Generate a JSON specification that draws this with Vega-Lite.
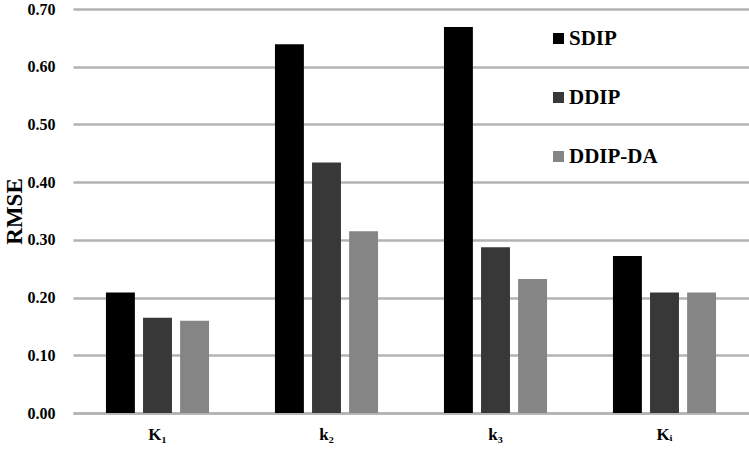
{
  "$schema": "https://vega.github.io/schema/vega-lite/v6.json",
  "width": 676,
  "height": 404,
  "autosize": {"type": "none"},
  "padding": {"left": 73, "top": 9, "right": 0, "bottom": 36},
  "background": "white",
  "data": {
    "values": [
      {"cat": "K₁", "series": "SDIP", "rmse": 0.209},
      {"cat": "K₁", "series": "DDIP", "rmse": 0.165},
      {"cat": "K₁", "series": "DDIP-DA", "rmse": 0.160},
      {"cat": "k₂", "series": "SDIP", "rmse": 0.639},
      {"cat": "k₂", "series": "DDIP", "rmse": 0.434},
      {"cat": "k₂", "series": "DDIP-DA", "rmse": 0.315},
      {"cat": "k₃", "series": "SDIP", "rmse": 0.669},
      {"cat": "k₃", "series": "DDIP", "rmse": 0.287},
      {"cat": "k₃", "series": "DDIP-DA", "rmse": 0.232},
      {"cat": "Kᵢ", "series": "SDIP", "rmse": 0.272},
      {"cat": "Kᵢ", "series": "DDIP", "rmse": 0.209},
      {"cat": "Kᵢ", "series": "DDIP-DA", "rmse": 0.209}
    ]
  },
  "config": {
    "view": {"stroke": null},
    "font": "Liberation Serif"
  },
  "mark": {"type": "bar"},
  "encoding": {
    "x": {
      "field": "cat",
      "type": "nominal",
      "sort": ["K₁", "k₂", "k₃", "Kᵢ"],
      "scale": {"paddingInner": 0.39, "paddingOuter": 0.195},
      "axis": {
        "title": null,
        "labelAngle": 0,
        "labelFont": "Liberation Serif",
        "labelFontWeight": "bold",
        "labelFontSize": 17,
        "labelColor": "black",
        "labelPadding": 13,
        "ticks": false,
        "domain": true,
        "domainColor": "#b3b3b3",
        "domainWidth": 2.5
      }
    },
    "xOffset": {
      "field": "series",
      "type": "nominal",
      "sort": ["SDIP", "DDIP", "DDIP-DA"],
      "scale": {"paddingInner": 0.22, "paddingOuter": 0}
    },
    "y": {
      "field": "rmse",
      "type": "quantitative",
      "scale": {"domain": [0, 0.7], "nice": false},
      "axis": {
        "title": "RMSE",
        "titleFont": "Liberation Serif",
        "titleFontWeight": "bold",
        "titleFontSize": 23,
        "titleColor": "black",
        "titlePadding": 1,
        "values": [0, 0.1, 0.2, 0.3, 0.4, 0.5, 0.6, 0.7],
        "format": ".2f",
        "labelFont": "Liberation Serif",
        "labelFontWeight": "bold",
        "labelFontSize": 16,
        "labelColor": "black",
        "labelPadding": 18,
        "ticks": false,
        "domain": false,
        "grid": true,
        "gridColor": "#b3b3b3",
        "gridWidth": 2.5
      }
    },
    "color": {
      "field": "series",
      "type": "nominal",
      "sort": ["SDIP", "DDIP", "DDIP-DA"],
      "scale": {"domain": ["SDIP", "DDIP", "DDIP-DA"], "range": ["#000000", "#383838", "#858585"]},
      "legend": {
        "title": null,
        "orient": "none",
        "legendX": 475,
        "legendY": 19,
        "symbolType": "square",
        "symbolSize": 121,
        "symbolStrokeWidth": 0,
        "labelFont": "Liberation Serif",
        "labelFontWeight": "bold",
        "labelFontSize": 21,
        "labelColor": "black",
        "labelOffset": 0,
        "rowPadding": 37
      }
    }
  }
}
